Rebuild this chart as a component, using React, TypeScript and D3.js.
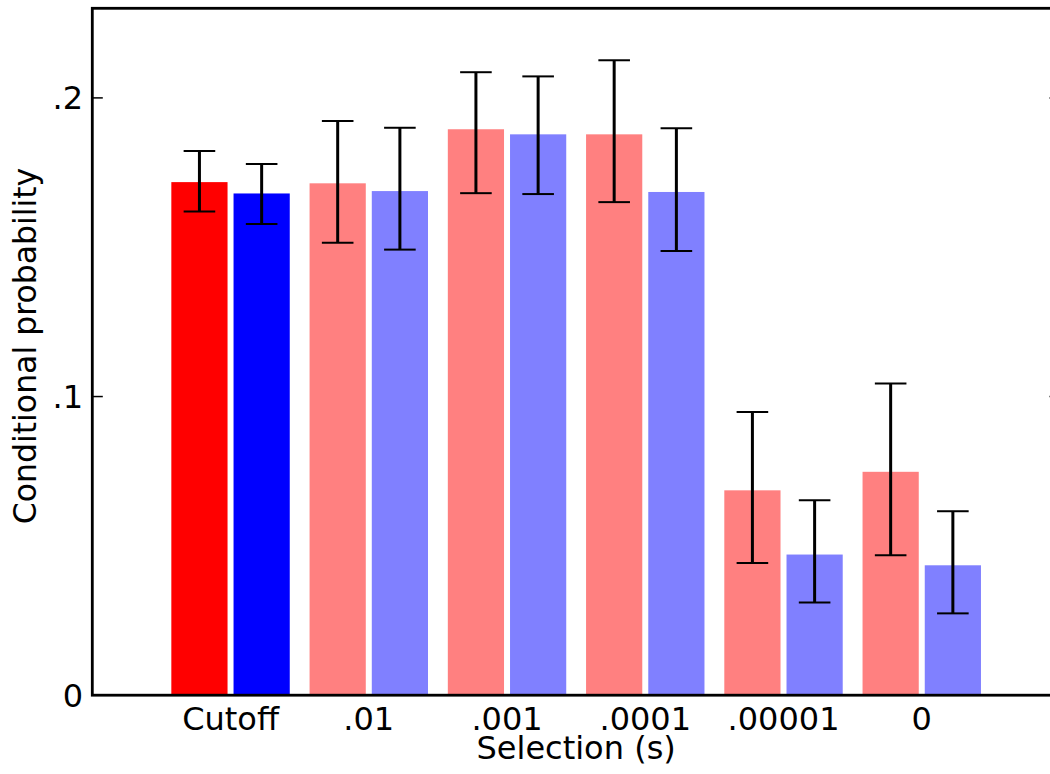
import React from 'react';
import * as d3 from 'd3';

const categories = ['Cutoff', '.01', '.001', '.0001', '.00001', '0'];

const redValues = [0.1718, 0.1714, 0.1895, 0.1878, 0.0686, 0.0748];
const redUpper = [0.1822, 0.1923, 0.2086, 0.2126, 0.0948, 0.1044];
const redLower = [0.162, 0.1515, 0.1681, 0.1651, 0.0443, 0.0469];

const blueValues = [0.168, 0.1688, 0.1878, 0.1685, 0.0471, 0.0435];
const blueUpper = [0.1779, 0.19, 0.2072, 0.1898, 0.0653, 0.0616];
const blueLower = [0.1578, 0.1492, 0.1678, 0.1487, 0.031, 0.0274];

const yTicks = [0, 0.1, 0.2];
const yTickLabels = ['0', '.1', '.2'];

const W = 1050;
const H = 774;
const FONT = '"DejaVu Sans", sans-serif';

export default function App() {
  const x = d3.scaleLinear().domain([-1, 6]).range([92.3, 1060]);
  const y = d3.scaleLinear().domain([0, 0.23]).range([695.2, 8.3]);

  const barW = 0.4066;
  const halfGap = 0.0217;
  const capHalf = 15.8;

  const series = [
    { values: redValues, upper: redUpper, lower: redLower, strong: '#ff0000', light: '#ff8080', off: -halfGap - barW },
    { values: blueValues, upper: blueUpper, lower: blueLower, strong: '#0000ff', light: '#8080ff', off: halfGap },
  ];

  return (
    <div style={{ position: 'fixed', left: 0, top: 0, width: W, height: H, overflow: 'hidden', background: '#fff' }}>
      <svg width={W} height={H} style={{ display: 'block' }}>
        <rect width={W} height={H} fill="#fff" />

        {/* bars */}
        {series.map((s, si) =>
          s.values.map((v, i) => (
            <rect
              key={`b${si}-${i}`}
              x={x(i + s.off)}
              y={y(v)}
              width={x(barW) - x(0)}
              height={y(0) - y(v)}
              fill={i === 0 ? s.strong : s.light}
            />
          ))
        )}

        {/* error bars */}
        {series.map((s, si) =>
          s.values.map((v, i) => {
            const cx = x(i + s.off + barW / 2);
            return (
              <g key={`e${si}-${i}`} stroke="#000">
                <line x1={cx} x2={cx} y1={y(s.upper[i])} y2={y(s.lower[i])} strokeWidth={3} />
                <line x1={cx - capHalf} x2={cx + capHalf} y1={y(s.upper[i])} y2={y(s.upper[i])} strokeWidth={2} />
                <line x1={cx - capHalf} x2={cx + capHalf} y1={y(s.lower[i])} y2={y(s.lower[i])} strokeWidth={2} />
              </g>
            );
          })
        )}

        {/* y ticks (left and right, inward) */}
        {yTicks.map((t, i) => (
          <g key={`yt${i}`}>
            <line x1={x(-1)} x2={x(-1) + 10.5} y1={y(t)} y2={y(t)} stroke="#000" strokeWidth={1.5} />
            <line x1={x(6)} x2={x(6) - 10.5} y1={y(t)} y2={y(t)} stroke="#000" strokeWidth={1.5} />
            <text x={83} y={y(t) + 11.5} textAnchor="end" fontFamily={FONT} fontSize={32} fill="#000">
              {yTickLabels[i]}
            </text>
          </g>
        ))}

        {/* x tick labels */}
        {categories.map((c, i) => (
          <text key={`xt${i}`} x={x(i)} y={730} textAnchor="middle" fontFamily={FONT} fontSize={32} fill="#000">
            {c}
          </text>
        ))}

        {/* frame */}
        <rect
          x={x(-1)}
          y={y(0.23)}
          width={x(6) - x(-1)}
          height={y(0) - y(0.23)}
          fill="none"
          stroke="#000"
          strokeWidth={2.8}
        />

        {/* axis labels */}
        <text x={(x(-1) + x(6)) / 2} y={758.5} textAnchor="middle" fontFamily={FONT} fontSize={32} fill="#000">
          Selection (s)
        </text>
        <text
          transform={`translate(36,346) rotate(-90)`}
          textAnchor="middle"
          fontFamily={FONT}
          fontSize={31.5}
          fill="#000"
        >
          Conditional probability
        </text>
      </svg>
    </div>
  );
}
